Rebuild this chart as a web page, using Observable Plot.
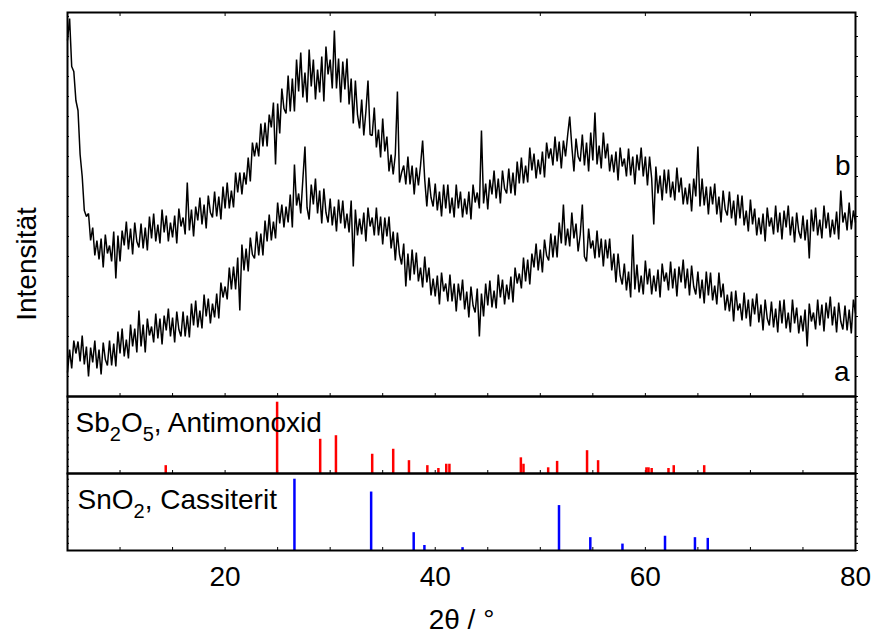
<!DOCTYPE html>
<html>
<head>
<meta charset="utf-8">
<script src="https://cdn.jsdelivr.net/npm/d3@7"></script>
<script src="https://cdn.jsdelivr.net/npm/@observablehq/plot@0.6"></script>
<style>
  body { margin: 0; background: #fff; }
  #chart { width: 875px; }
  #chart svg { display: block; overflow: visible; }
</style>
</head>
<body>
<div id="chart"></div>
<script>
// Diffraction scans: 2θ from 5° to 80° in 0.2° steps, intensity in arbitrary units.
const scanStart = 5;
const scanStep = 0.2;

// Sample a (lower trace), one row per degree
const patternA = [
  24, 47, 28, 56, 43,   55, 35, 61, 32, 50,   20, 49, 34, 56, 28,   47, 22, 54, 37, 31,
  56, 31, 53, 30, 65,   43, 68, 40, 57, 38,   72, 50, 68, 44, 86,   50, 72, 44, 78, 61,
  70, 54, 83, 58, 78,   52, 81, 66, 88, 60,   79, 54, 85, 67, 60,   85, 60, 81, 59, 93,
  71, 96, 69, 86, 68,   102, 80, 98, 73, 93,  79, 103, 78, 114, 99, 110, 97, 129, 107, 130,
  107, 139, 86, 152, 126, 148, 125, 159, 142, 138, 165, 141, 163, 141, 176, 155, 182, 156, 175, 158,
  194, 173, 192, 169, 190, 174, 202, 169, 232, 191, 203, 183, 217, 250, 189, 177, 212, 192, 218, 183,
  206, 173, 208, 184, 174, 198, 171, 190, 165, 197, 173, 196, 168, 183, 164, 196, 130, 187, 161, 178,
  162, 184, 155, 189, 170, 179, 161, 189, 161, 180, 152, 179, 160, 180, 148, 165, 136, 164, 142, 132,
  153, 110, 143, 116, 147, 122, 144, 115, 129, 109, 140, 114, 129, 101, 118, 100, 121, 92, 124, 105,
  113, 95, 122, 95, 113,  85, 113, 96, 117, 87,  105, 79, 110, 91, 84,  108, 60, 103, 80, 113,
  91, 116, 89, 106, 88,   122, 99, 117, 92, 112,  97, 120, 94, 129, 113, 123, 108, 139, 115, 137,
  112, 143, 129, 153, 126, 147, 124, 157, 141, 136, 163, 139, 161, 139, 174, 153, 192, 151, 168, 150,
  184, 158, 173, 145, 162, 192, 140, 135, 168, 148, 156, 138, 166, 139, 158, 130, 157, 138, 158, 126,
  143, 114, 143, 121, 112, 133, 106, 125, 99, 162,  107, 132, 104, 121, 102, 136, 112, 128, 102, 121,
  105, 127, 99, 133, 115, 124, 106, 135, 108, 128,  100, 130, 114, 137, 108, 128, 101, 131, 110, 102,
  125, 98, 117, 93, 125,  101, 124, 96, 111, 92,  124, 99, 113, 86, 102,  85, 105, 75, 106, 86,
  93, 76, 104, 78, 97,   70, 98, 82, 103, 74,   92, 66, 97, 78, 71,   95, 69, 88, 64, 96,
  73, 97, 68, 84, 64,    97, 73, 89, 63, 81,   65, 87, 50, 93, 75,   84, 67, 97, 71, 92,
  65, 94, 78, 100, 71,   90, 64, 94, 75, 67,   91, 66, 87, 63, 97,
  83
];

// Sample b (upper trace), one row per degree
const patternB = [
  356, 378, 330, 325, 296, 286, 242, 220, 186, 180, 183, 156, 169, 141, 156, 137, 158, 129, 162, 143,
  151, 135, 165, 118, 161, 135, 166, 151, 175, 147, 168, 142, 174, 155, 149, 173, 148, 169, 146, 180,
  158, 183, 155, 172, 153, 187, 164, 181, 155, 174, 159, 181, 153, 188, 170, 179, 162, 214, 166, 187,
  160, 190, 176, 199, 172, 192, 168, 201, 184, 179, 205, 180, 200, 177, 210, 188, 214, 188, 206, 189,
  224, 204, 224, 202, 224, 212, 239, 215, 254, 240, 254, 240, 273, 250, 274, 250, 282, 269, 294, 232,
  293, 263, 308, 288, 283, 321, 285, 318, 285, 337, 305, 344, 299, 324, 294, 347, 310, 337, 297, 327,
  304, 340, 295, 350, 322, 337, 308, 366, 308, 338, 294, 335, 307, 338, 292, 318, 273, 316, 282, 268,
  297, 261, 285, 316, 262, 261, 289, 249, 267, 239, 278, 245, 260, 225, 242, 222, 242, 305, 214, 224,
  231, 212, 240, 212, 231, 202, 229, 211, 231, 256, 217, 190, 219, 199, 190, 213, 186, 205, 180, 212,
  188, 212, 183, 199, 179, 212, 188, 205, 179, 198, 182, 205, 177, 212, 194, 204, 188, 266, 193, 213,
  187, 217, 202, 226, 198, 218, 193, 226, 208, 203, 228, 203, 224, 201, 235, 213, 239, 213, 231, 214,
  249, 226, 243, 218, 237, 222, 245, 219, 254, 238, 248, 231, 260, 235, 255, 228, 256, 240, 261, 280,
  250, 225, 258, 240, 235, 262, 231, 254, 225, 264, 236, 284, 232, 251, 228, 264, 238, 253, 225, 242,
  224, 245, 216, 249, 230, 238, 220, 248, 221, 240, 212, 242, 226, 249, 220, 240, 211, 240, 218, 172,
  230, 203, 221, 196, 227, 203, 227, 199, 215, 196, 229, 204, 219, 192, 209, 192, 213, 185, 218, 200,
  250, 190, 218, 191, 210, 182, 210, 192, 213, 182, 200, 174, 206, 187, 181, 205, 178, 196, 171, 202,
  178, 201, 171, 186, 165, 197, 172, 188, 161, 179, 162, 183, 155, 189, 170, 179, 162, 191, 164, 184,
  157, 186, 169, 191, 161, 180, 154, 184, 165, 158, 181, 156, 177, 138, 187, 165, 189, 161, 177, 158,
  191, 168, 184, 159, 177, 162, 185, 157, 206, 174, 184, 166, 194, 167, 186,
  174
];

// Reference lines, Sb2O5 (relative intensity, strongest = 100)
const sb2o5Angles = [14.35, 24.95, 29.05, 30.55, 34.0, 36.0, 37.5, 39.25, 40.3, 41.05, 41.35,
                     48.15, 48.4, 50.75, 51.6, 54.45, 55.5, 60.1, 60.3, 60.6, 62.2, 62.7, 65.6];
const sb2o5Intensity = [11, 100, 48, 53, 27, 34, 18, 11, 7, 13, 13,
                        22, 13, 8, 17, 32, 18, 8, 8, 7, 7, 11, 11];

// Reference lines, SnO2 cassiterite
const sno2Angles = [26.6, 33.9, 37.95, 38.97, 42.6, 51.78, 54.76, 57.82, 61.87, 64.72, 65.94];
const sno2Intensity = [100, 82, 25, 7, 4, 63, 18, 9, 20, 18, 17];

const phaseLabels = ["Sb2O5, Antimonoxid", "SnO2, Cassiterit"];
const xLabelTicks = [20, 40, 60, 80];
const xMinorTicks = d3.range(5, 81, 5);
const xTopTicks = d3.range(10, 81, 10);

const traceA = patternA.map((v, i) => ({angle: scanStart + i * scanStep, intensity: v}));
const traceB = patternB.map((v, i) => ({angle: scanStart + i * scanStep, intensity: v}));
const sbLines = sb2o5Angles.map((a, i) => ({angle: a, intensity: sb2o5Intensity[i]}));
const snLines = sno2Angles.map((a, i) => ({angle: a, intensity: sno2Intensity[i]}));

const font = "'Liberation Sans', Arial, sans-serif";
const common = {
  width: 875,
  marginLeft: 67,
  marginRight: 20,
  style: {fontFamily: font, fontSize: "28px", color: "black", background: "transparent", overflow: "visible"},
  x: {domain: [5, 80]}
};
const blank = () => "";
const minorX = (anchor, ticks) => Plot.axisX({anchor, ticks, tickSize: -3, tickFormat: blank, label: null});
const sideY = (ticks) => [
  Plot.axisY({anchor: "left", ticks, tickSize: -2, tickFormat: blank, label: null}),
  Plot.axisY({anchor: "right", ticks, tickSize: 2, tickFormat: blank, label: null})
];
const traceStyle = {x: "angle", y: "intensity", stroke: "black", strokeWidth: 1.5, strokeLinejoin: "miter", strokeLinecap: "butt"};

// Top panel: measured patterns
const patternPanel = Plot.plot({
  ...common,
  height: 396,
  marginTop: 12,
  marginBottom: 0,
  y: {domain: [0, 384]},
  marks: [
    minorX("top", xTopTicks),
    minorX("bottom", xMinorTicks),
    ...sideY(d3.range(0, 385, 20)),
    Plot.line(traceA, traceStyle),
    Plot.line(traceB, traceStyle),
    Plot.text(["b"], {frameAnchor: "right", textAnchor: "end", dx: -5, dy: -38, fontSize: 28}),
    Plot.text(["a"], {frameAnchor: "bottom-right", textAnchor: "end", dx: -6, dy: -16, fontSize: 28}),
    Plot.frame({stroke: "black", strokeWidth: 2})
  ]
});

// Middle panel: Sb2O5 reference
const sbPanel = Plot.plot({
  ...common,
  height: 77,
  marginTop: 0,
  marginBottom: 0,
  y: {domain: [0, 108]},
  marks: [
    minorX("bottom", xMinorTicks),
    ...sideY(d3.range(0, 108, 10)),
    Plot.ruleX(sbLines, {x: "angle", y1: 0, y2: "intensity", stroke: "#ff0000", strokeWidth: 2.5}),
    Plot.text([phaseLabels[0]], {frameAnchor: "top-left", textAnchor: "start", lineAnchor: "top", dx: 8, dy: 16, fontSize: 28}),
    Plot.frame({stroke: "black", strokeWidth: 2})
  ]
});

// Bottom panel: SnO2 reference and the shared 2θ axis
const snPanel = Plot.plot({
  ...common,
  height: 160,
  marginTop: 0,
  marginBottom: 83,
  y: {domain: [0, 108]},
  marks: [
    minorX("bottom", xMinorTicks),
    Plot.axisX({anchor: "bottom", ticks: xLabelTicks, tickSize: 0, tickPadding: 16, fontSize: 28, label: null}),
    ...sideY(d3.range(0, 108, 10)),
    Plot.ruleX(snLines, {x: "angle", y1: 0, y2: "intensity", stroke: "#0000ff", strokeWidth: 2.5}),
    Plot.text([phaseLabels[1]], {frameAnchor: "top-left", textAnchor: "start", lineAnchor: "top", dx: 10, dy: 16, fontSize: 28}),
    Plot.text(["2θ / °"], {frameAnchor: "bottom", dy: 78, fontSize: 28}),
    Plot.frame({stroke: "black", strokeWidth: 2})
  ]
});

const chart = document.getElementById("chart");
chart.append(patternPanel, sbPanel, snPanel);

// Vertical intensity title beside the pattern panel
d3.select(patternPanel).append("text")
  .attr("transform", "translate(26,264) rotate(-90)")
  .attr("text-anchor", "middle")
  .attr("dy", "0.35em")
  .attr("font-size", 28)
  .attr("fill", "black")
  .text("Intensität");

// Render the digits of the chemical formulas as subscripts.
d3.selectAll("#chart text")
  .filter(function () { return phaseLabels.includes(this.textContent); })
  .each(function () {
    const parts = this.textContent.split(/(\d)/).filter(s => s.length);
    const el = d3.select(this);
    el.text(null);
    let shifted = false;
    for (const p of parts) {
      const isSub = /^\d$/.test(p);
      const t = el.append("tspan").text(p);
      if (isSub) {
        t.attr("font-size", 20);
        if (!shifted) { t.attr("dy", 9); shifted = true; }
      } else if (shifted) {
        t.attr("dy", -9);
        shifted = false;
      }
    }
  });
</script>
</body>
</html>
